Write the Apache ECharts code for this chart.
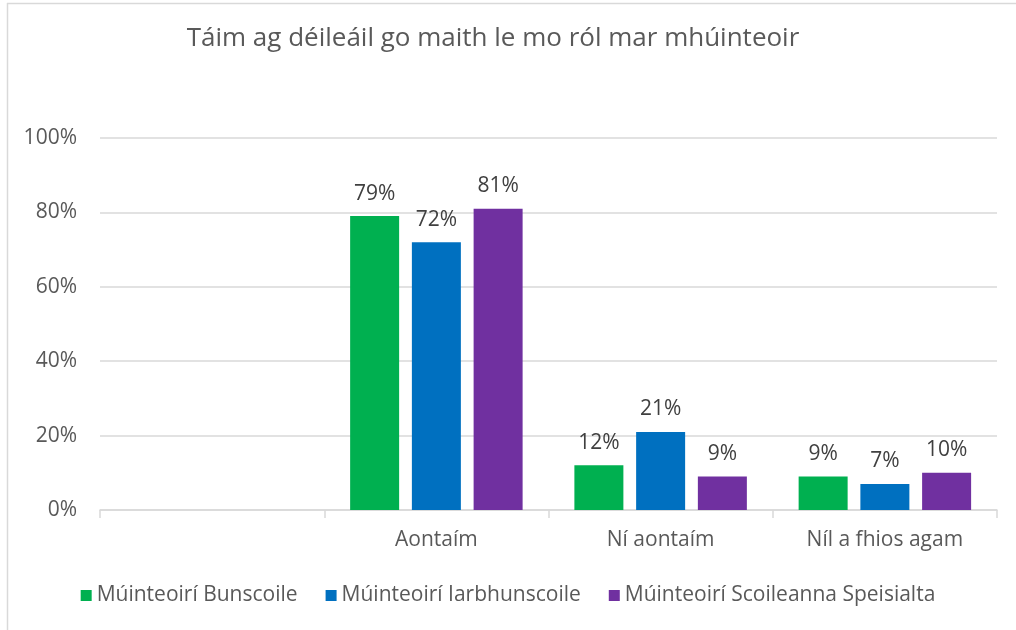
<!DOCTYPE html>
<html><head><meta charset="utf-8">
<script src="https://cdn.jsdelivr.net/npm/echarts@6/dist/echarts.min.js"></script>
<style>html,body{margin:0;padding:0;background:#fff}#c{width:1016px;height:630px}</style>
</head><body><div id="c"></div>
<script>
const titleText = 'Táim ag déileáil go maith le mo ról mar mhúinteoir';
const categories = ['', 'Aontaím', 'Ní aontaím', 'Níl a fhios agam'];
const seriesNames = ['Múinteoirí Bunscoile', 'Múinteoirí Iarbhunscoile', 'Múinteoirí Scoileanna Speisialta'];
const bunscoile = [null, 79, 12, 9];
const iarbhunscoile = [null, 72, 21, 7];
const speisialta = [null, 81, 9, 10];
const yTicks = [0, 20, 40, 60, 80, 100];
const colors = ['#00B050', '#0070C0', '#7030A0'];
const FONT = '"Open Sans", sans-serif';

const chart = echarts.init(document.getElementById('c'), null, {renderer: 'canvas'});
const mk = (name, data, color) => ({
  name, type: 'bar', data, barWidth: 49, barGap: '26%',
  itemStyle: {color},
  label: {show: true, position: 'top', distance: 12, formatter: p => p.value + '%',
    color: '#404040', fontSize: 21, fontFamily: FONT}
});
chart.setOption({
  animation: false,
  textStyle: {fontFamily: FONT},
  title: {text: titleText, left: 488, top: 21, textAlign: 'center',
    textStyle: {fontSize: 26, fontWeight: 'normal', color: '#595959', fontFamily: FONT}},
  grid: {left: 100, right: 19, top: 138, bottom: 120, containLabel: false},
  legend: {
    bottom: 19, left: 'center', itemWidth: 11, itemHeight: 11, itemGap: 28,
    icon: 'rect',
    textStyle: {fontSize: 21, color: '#595959', fontFamily: FONT},
    data: seriesNames
  },
  xAxis: {
    type: 'category', data: categories,
    axisLine: {lineStyle: {color: '#d9d9d9', width: 1.5}},
    axisTick: {show: true, length: 8, lineStyle: {color: '#d9d9d9', width: 1.5}},
    axisLabel: {color: '#595959', fontSize: 21, margin: 20, fontFamily: FONT}
  },
  yAxis: {
    type: 'value', min: yTicks[0], max: yTicks[yTicks.length - 1], interval: 20,
    axisLine: {show: false}, axisTick: {show: false},
    axisLabel: {formatter: v => v + '%', color: '#595959', fontSize: 21, margin: 23, fontFamily: FONT},
    splitLine: {lineStyle: {color: '#d9d9d9', width: 1.5}}
  },
  graphic: [
    {type: 'line', shape: {x1: 7, y1: 3.5, x2: 1016, y2: 3.5}, style: {stroke: '#d9d9d9', lineWidth: 1.5}},
    {type: 'line', shape: {x1: 7.5, y1: 3, x2: 7.5, y2: 630}, style: {stroke: '#d9d9d9', lineWidth: 1.5}}
  ],
  series: [
    mk(seriesNames[0], bunscoile, colors[0]),
    mk(seriesNames[1], iarbhunscoile, colors[1]),
    mk(seriesNames[2], speisialta, colors[2])
  ]
});
</script></body></html>
